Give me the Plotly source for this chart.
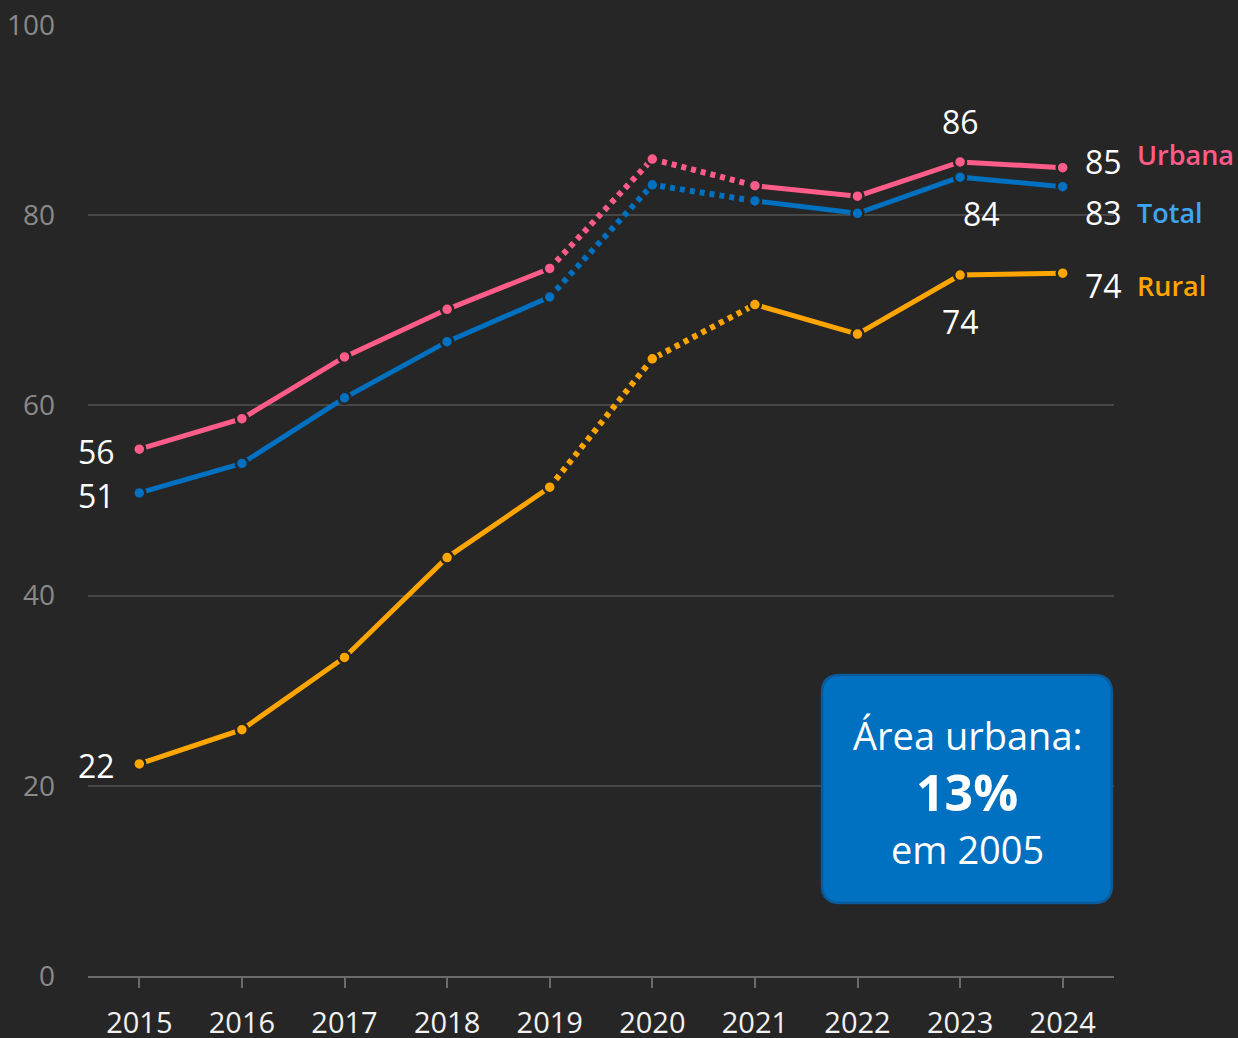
import plotly.graph_objects as go

years = [2015, 2016, 2017, 2018, 2019, 2020, 2021, 2022, 2023, 2024]
urbana = [55.4, 58.6, 65.1, 70.1, 74.4, 85.9, 83.1, 82.0, 85.6, 85.0]
total = [50.8, 53.9, 60.8, 66.7, 71.4, 83.2, 81.5, 80.2, 84.0, 83.0]
rural = [22.3, 25.9, 33.5, 44.0, 51.4, 64.9, 70.6, 67.5, 73.7, 73.9]
y_ticks = [0, 20, 40, 60, 80, 100]

names = ["Urbana", "Total", "Rural"]
label_urbana = ["56", "86", "85"]
label_total = ["51", "84", "83"]
label_rural = ["22", "74", "74"]

box_lines = ["Área urbana:", "13%", "em 2005"]

BG = "#262626"
C_URB = "#FF5C8A"
C_TOT = "#0070C0"
C_RUR = "#FFA500"
C_TOT_LABEL = "#3DA5F2"
FONT = "Open Sans"

fig = go.Figure()

def add_series(vals, color):
    fig.add_trace(go.Scatter(x=years[0:5], y=vals[0:5], mode="lines",
                             line=dict(color=color, width=5), hoverinfo="skip", showlegend=False))
    fig.add_trace(go.Scatter(x=years[4:7], y=vals[4:7], mode="lines",
                             line=dict(color=color, width=6, dash="5px,5px"), hoverinfo="skip", showlegend=False))
    fig.add_trace(go.Scatter(x=years[6:], y=vals[6:], mode="lines",
                             line=dict(color=color, width=5), hoverinfo="skip", showlegend=False))
    fig.add_trace(go.Scatter(x=years, y=vals, mode="markers",
                             marker=dict(color=color, size=12, line=dict(color=BG, width=2.5)),
                             hoverinfo="skip", showlegend=False))

add_series(rural, C_RUR)
add_series(total, C_TOT)
add_series(urbana, C_URB)

ann = []
def lab(x, y, text, xanchor="center", xshift=0, yshift=0, color="white", size=32, weight="normal"):
    ann.append(dict(x=x, y=y, xref="x", yref="y", text=text, showarrow=False,
                    xanchor=xanchor, yanchor="middle", xshift=xshift, yshift=yshift,
                    font=dict(family=FONT, size=size, color=color, weight=weight)))

lab(years[0], urbana[0], label_urbana[0], xanchor="right", xshift=-22, yshift=-2)
lab(years[0], total[0], label_total[0], xanchor="right", xshift=-22, yshift=-3)
lab(years[0], rural[0], label_rural[0], xanchor="right", xshift=-22, yshift=-2)
lab(years[8], urbana[8], label_urbana[1], yshift=40)
lab(years[8], total[8], label_total[1], xshift=21, yshift=-36)
lab(years[8], rural[8], label_rural[1], yshift=-46)
lab(years[9], urbana[9], label_urbana[2], xanchor="left", xshift=20, yshift=6)
lab(years[9], total[9], label_total[2], xanchor="left", xshift=20, yshift=-26)
lab(years[9], rural[9], label_rural[2], xanchor="left", xshift=20, yshift=-12)
lab(years[9], urbana[9], names[0], xanchor="left", xshift=72, yshift=13, color=C_URB, size=27, weight=600)
lab(years[9], total[9], names[1], xanchor="left", xshift=72, yshift=-26, color=C_TOT_LABEL, size=27, weight=600)
lab(years[9], rural[9], names[2], xanchor="left", xshift=72, yshift=-12, color=C_RUR, size=27, weight=600)

ann.append(dict(x=0.857, y=0.253, xref="paper", yref="paper", text=box_lines[0], showarrow=False,
                xanchor="center", yanchor="middle", font=dict(family=FONT, size=38, color="white")))
ann.append(dict(x=0.857, y=0.193, xref="paper", yref="paper", text=f"<b>{box_lines[1]}</b>", showarrow=False,
                xanchor="center", yanchor="middle", font=dict(family=FONT, size=50, color="white")))
ann.append(dict(x=0.857, y=0.134, xref="paper", yref="paper", text=box_lines[2], showarrow=False,
                xanchor="center", yanchor="middle", font=dict(family=FONT, size=38, color="white")))

x0, x1, y0, y1 = 0.7154, 0.998, 0.0768, 0.3165
rx, ry = 18 / 1026, 18 / 951
path = (f"M {x0+rx},{y0} L {x1-rx},{y0} Q {x1},{y0} {x1},{y0+ry} "
        f"L {x1},{y1-ry} Q {x1},{y1} {x1-rx},{y1} "
        f"L {x0+rx},{y1} Q {x0},{y1} {x0},{y1-ry} "
        f"L {x0},{y0+ry} Q {x0},{y0} {x0+rx},{y0} Z")

fig.update_layout(
    width=1238, height=1038,
    paper_bgcolor=BG, plot_bgcolor=BG,
    margin=dict(l=88, r=124, t=25, b=62),
    showlegend=False,
    annotations=ann,
    shapes=[dict(type="path", path=path, xref="paper", yref="paper",
                 fillcolor="#0070C0", line=dict(color="#0B5A9A", width=2.5), layer="above")],
    font=dict(family=FONT),
)
fig.update_xaxes(range=[2014.5, 2024.5], tickvals=years, ticktext=[str(y) for y in years],
                 showgrid=False, zeroline=False, showline=True, linecolor="#6a6a6a", linewidth=2,
                 ticks="outside", ticklen=10, tickwidth=2, tickcolor="#6a6a6a", automargin=False,
                 tickfont=dict(family=FONT, size=29, color="#f2f2f2"), ticklabelstandoff=10)
fig.update_yaxes(range=[0, 100], tickvals=y_ticks, showgrid=True, gridcolor="#474747", gridwidth=1.5,
                 zeroline=False, showline=False, ticks="", automargin=False,
                 tickfont=dict(family=FONT, size=28, color="#8a8a8a"), ticklabelstandoff=32)

fig.write_html("out.html", config={"displayModeBar": False},
               post_script="document.body.style.margin='0';document.body.style.background='#262626';")
